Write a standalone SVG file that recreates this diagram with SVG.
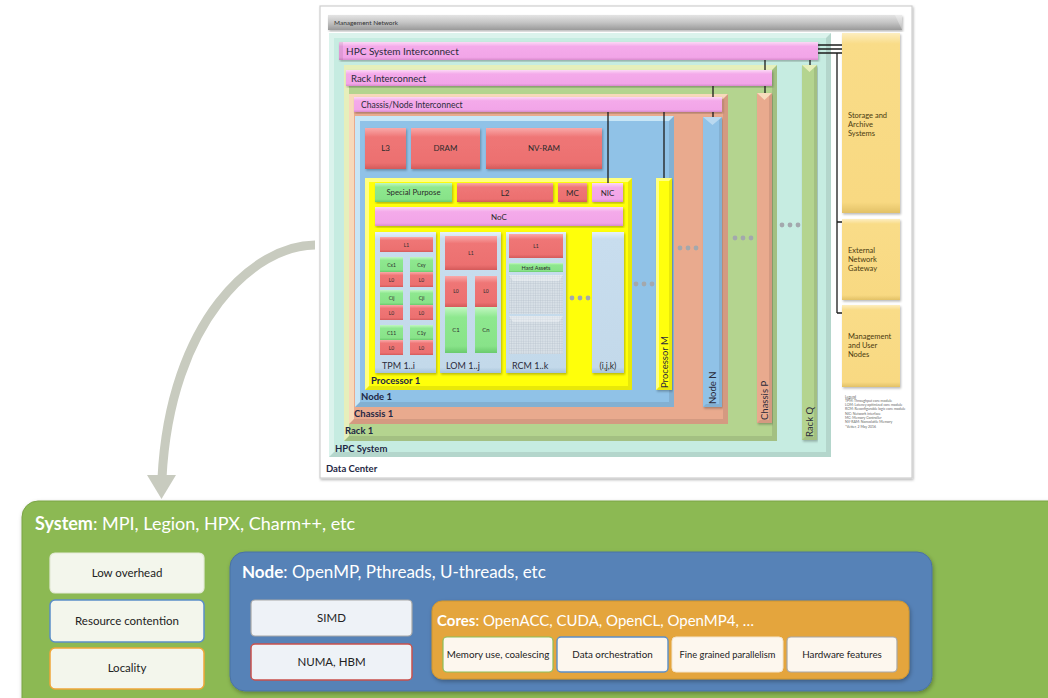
<svg xmlns="http://www.w3.org/2000/svg" width="1048" height="698" viewBox="0 0 1048 698">
<defs>
<linearGradient id="gRed" x1="0" y1="0" x2="0" y2="1"><stop offset="0" stop-color="#f9a9a9"/><stop offset="0.22" stop-color="#ef7676"/><stop offset="0.85" stop-color="#ec7070"/><stop offset="1" stop-color="#d45a5a"/></linearGradient>
<linearGradient id="gGreen" x1="0" y1="0" x2="0" y2="1"><stop offset="0" stop-color="#c2f7c2"/><stop offset="0.22" stop-color="#8ee88f"/><stop offset="0.85" stop-color="#88e389"/><stop offset="1" stop-color="#6acb6d"/></linearGradient>
<linearGradient id="gPink" x1="0" y1="0" x2="0" y2="1"><stop offset="0" stop-color="#fcd8f6"/><stop offset="0.25" stop-color="#f4aaea"/><stop offset="0.85" stop-color="#f2a5e8"/><stop offset="1" stop-color="#d88bcd"/></linearGradient>
<linearGradient id="gGold" x1="0" y1="0" x2="0" y2="1"><stop offset="0" stop-color="#fdeec0"/><stop offset="0.06" stop-color="#f9dc88"/><stop offset="0.94" stop-color="#f8d982"/><stop offset="1" stop-color="#e2c166"/></linearGradient>
<linearGradient id="gCard" x1="0" y1="0" x2="0" y2="1"><stop offset="0" stop-color="#e6f1f9"/><stop offset="0.05" stop-color="#c8ddee"/><stop offset="0.96" stop-color="#c3d9ea"/><stop offset="1" stop-color="#a7c3d9"/></linearGradient>
<linearGradient id="gGray" x1="0" y1="0" x2="0" y2="1"><stop offset="0" stop-color="#e4e4e4"/><stop offset="0.5" stop-color="#c4c4c4"/><stop offset="1" stop-color="#9a9a9a"/></linearGradient>
<filter id="ds" x="-5%" y="-5%" width="110%" height="115%"><feDropShadow dx="1" dy="1.5" stdDeviation="1.3" flood-color="#000" flood-opacity="0.28"/></filter>
<filter id="ds2" x="-5%" y="-5%" width="110%" height="115%"><feDropShadow dx="1" dy="2" stdDeviation="2" flood-color="#000" flood-opacity="0.3"/></filter>
<pattern id="grid" width="2.4" height="2.4" patternUnits="userSpaceOnUse"><rect width="2.4" height="2.4" fill="#d9e1e7"/><path d="M0,0H2.4M0,0V2.4" stroke="#aab7c2" stroke-width="0.5"/></pattern>
</defs>
<style>
text{font-family:Lato,'Liberation Sans',sans-serif}
.hl{fill:#fff;opacity:.38}
.sd{fill:#000;opacity:.09}
.red{fill:url(#gRed)}
.grn{fill:url(#gGreen)}
.pnk{fill:url(#gPink)}
.gold{fill:url(#gGold)}
.card{fill:url(#gCard)}
.t{fill:#2b2b2b;text-anchor:middle}
.s5{font-size:5px}
.s8{font-size:8px}
.lb{fill:#1e2744;font-weight:bold;font-size:9.5px}
.ml{fill:#2b2b3a;font-size:9px}
.side{fill:#4a3a10;font-size:7.5px}
.leg{fill:#666;font-size:3.5px}
.dot{fill:#a3a8ad}
.wire{stroke:#1c1c1c;stroke-width:1.3;fill:none}
.bt{fill:#fff;font-size:18px}
.bt tspan.b{font-weight:bold}
.box{font-size:11.5px;fill:#222;text-anchor:middle}
.cbox{font-size:9.8px;fill:#222;text-anchor:middle}
</style>

<!-- Data center frame -->
<g id="data-center">
<rect x="320" y="6" width="592" height="472" fill="#fff" stroke="#cfcfcf" stroke-width="1.2" filter="url(#ds)"/>
<text x="326" y="472" class="lb">Data Center</text>
</g>

<g id="management-network">
<rect x="328" y="15" width="574" height="15" fill="url(#gGray)" filter="url(#ds)"/>
<path d="M895,15 L902,15 L902,30 Z" fill="#fff" opacity=".3"/>
<text x="334" y="25" fill="#333" font-size="6.5px">Management Network</text>
</g>

<g id="hpc-system">
<rect x="329" y="33" width="502" height="424" fill="#c6ece1"/>
<path class="hl" d="M329,33 H831 L826,38 H334 V452 L329,457 Z"/>
<path class="sd" d="M831,33 V457 H329 L334,452 H826 V38 Z"/>
<text x="335" y="452" class="lb">HPC System</text>
</g>

<g id="hpc-interconnect">
<rect x="339" y="42" width="479" height="18" class="pnk" filter="url(#ds)"/>
<path d="M339,42 h4 v18 h-4 Z" fill="#000" opacity=".08"/>
<text x="346" y="54.5" fill="#2b2b3a" font-size="10px">HPC System Interconnect</text>
</g>

<g id="rack-1">
<rect x="344" y="65" width="433" height="376" fill="#b4d48f"/>
<path d="M344,65 H777 L772,70 H349 V436 L344,441 Z" fill="#f2f5c6" opacity=".8"/>
<path class="sd" d="M777,65 V441 H344 L349,436 H772 V70 Z"/>
<text x="345" y="434" class="lb">Rack 1</text>
</g>

<g id="rack-interconnect">
<rect x="346" y="70" width="426" height="16" class="pnk" filter="url(#ds)"/>
<text x="351" y="81.5" fill="#2b2b3a" font-size="9.5px">Rack Interconnect</text>
</g>

<g id="chassis-1">
<rect x="349" y="94" width="379" height="330" fill="#e9aa8e"/>
<path d="M349,94 H728 L723,99 H354 V419 L349,424 Z" fill="#fbe8c8" opacity=".75"/>
<path class="sd" d="M728,94 V424 H349 L354,419 H723 V99 Z"/>
<text x="354" y="417" class="lb">Chassis 1</text>
</g>

<g id="chassis-node-interconnect">
<rect x="354" y="97" width="368" height="15" class="pnk" filter="url(#ds)"/>
<text x="361" y="108" fill="#2b2b3a" font-size="8.5px">Chassis/Node Interconnect</text>
</g>

<g id="node-1">
<rect x="355" y="116" width="319" height="291" fill="#90c2e7"/>
<path d="M355,116 H674 L669,121 H360 V402 L355,407 Z" fill="#d6effa" opacity=".8"/>
<path class="sd" d="M674,116 V407 H355 L360,402 H669 V121 Z"/>
<text x="361" y="400" class="lb">Node 1</text>
</g>

<g id="l3"><rect x="365" y="128" width="41" height="41" class="red" filter="url(#ds)"/><text x="385.5" y="151" class="t s8">L3</text></g>
<g id="dram"><rect x="411" y="128" width="69" height="41" class="red" filter="url(#ds)"/><text x="445.5" y="151" class="t s8">DRAM</text></g>
<g id="nv-ram"><rect x="486" y="128" width="116" height="41" class="red" filter="url(#ds)"/><text x="544" y="151" class="t s8">NV-RAM</text></g>

<g id="processor-1">
<rect x="365" y="178" width="267" height="212" fill="#ffff0a"/>
<path d="M365,178 H632 L628,182 H369 V386 L365,390 Z" fill="#ffffb0" opacity=".7"/>
<path class="sd" d="M632,178 V390 H365 L369,386 H628 V182 Z"/>
<text x="371" y="384" class="lb">Processor 1</text>
</g>

<g id="special-purpose"><rect x="375" y="183" width="77" height="19" class="grn" filter="url(#ds)"/><text x="413.5" y="195" class="t" font-size="7.8px">Special Purpose</text></g>
<g id="l2"><rect x="457" y="183" width="96" height="19" class="red" filter="url(#ds)"/><text x="505" y="195.5" class="t s8">L2</text></g>
<g id="mc"><rect x="558" y="183" width="29" height="19" class="red" filter="url(#ds)"/><text x="572.5" y="195.5" class="t s8">MC</text></g>
<g id="nic"><rect x="592" y="183" width="31" height="19" class="pnk" filter="url(#ds)"/><text x="607.5" y="195.5" class="t s8">NIC</text></g>
<g id="noc"><rect x="375" y="207" width="248" height="19" class="pnk" filter="url(#ds)"/><text x="499" y="219.5" class="t s8">NoC</text></g>

<g id="tpm">
<rect x="375" y="232" width="61" height="141" class="card" filter="url(#ds)"/>
<rect x="380" y="237" width="53" height="15" class="red"/><text x="406.5" y="246.5" class="t s5">L1</text>
<rect x="380" y="257" width="23" height="15" class="grn"/><text x="391.5" y="266.5" class="t s5">Cx1</text>
<rect x="380" y="272" width="23" height="15" class="red"/><text x="391.5" y="281.5" class="t s5">L0</text>
<rect x="410" y="257" width="23" height="15" class="grn"/><text x="421.5" y="266.5" class="t s5">Cxy</text>
<rect x="410" y="272" width="23" height="15" class="red"/><text x="421.5" y="281.5" class="t s5">L0</text>
<rect x="380" y="290" width="23" height="15" class="grn"/><text x="391.5" y="299.5" class="t s5">Cij</text>
<rect x="380" y="305" width="23" height="15" class="red"/><text x="391.5" y="314.5" class="t s5">L0</text>
<rect x="410" y="290" width="23" height="15" class="grn"/><text x="421.5" y="299.5" class="t s5">Cji</text>
<rect x="410" y="305" width="23" height="15" class="red"/><text x="421.5" y="314.5" class="t s5">L0</text>
<rect x="380" y="325" width="23" height="15" class="grn"/><text x="391.5" y="334.5" class="t s5">C11</text>
<rect x="380" y="340" width="23" height="15" class="red"/><text x="391.5" y="349.5" class="t s5">L0</text>
<rect x="410" y="325" width="23" height="15" class="grn"/><text x="421.5" y="334.5" class="t s5">C1y</text>
<rect x="410" y="340" width="23" height="15" class="red"/><text x="421.5" y="349.5" class="t s5">L0</text>
<text x="382" y="369" class="ml">TPM 1..i</text>
</g>

<g id="lom">
<rect x="440" y="232" width="61" height="141" class="card" filter="url(#ds)"/>
<rect x="445" y="236" width="52" height="34" class="red"/><text x="471" y="255" class="t s5">L1</text>
<rect x="445" y="276" width="22" height="31" class="red"/><text x="456" y="293" class="t s5">L0</text>
<rect x="445" y="307" width="22" height="46" class="grn"/><text x="456" y="332" class="t" font-size="6px">C1</text>
<rect x="475" y="276" width="22" height="31" class="red"/><text x="486" y="293" class="t s5">L0</text>
<rect x="475" y="307" width="22" height="46" class="grn"/><text x="486" y="332" class="t" font-size="6px">Cn</text>
<text x="446" y="369" class="ml">LOM 1..j</text>
</g>

<g id="rcm">
<rect x="506" y="232" width="60" height="141" class="card" filter="url(#ds)"/>
<rect x="509" y="234" width="54" height="24" class="red"/><text x="536" y="248" class="t s5">L1</text>
<rect x="509" y="263" width="54" height="9" class="grn"/><text x="536" y="270" class="t" font-size="5.5px">Hard Assets</text>
<rect x="509" y="275" width="54" height="39" fill="url(#grid)"/>
<rect x="509" y="316" width="54" height="38" fill="url(#grid)"/>
<path d="M509,275 H563 L559,281 H513 Z M509,316 H563 L559,322 H513 Z" fill="#fff" opacity=".35"/>
<text x="512" y="369" class="ml">RCM 1..k</text>
</g>

<g id="ijk">
<rect x="592" y="232" width="32" height="141" class="card" filter="url(#ds)"/>
<text x="608" y="369" class="t" font-size="8.5px">(i,j,k)</text>
</g>

<g id="processor-m">
<rect x="656" y="178" width="16" height="212" fill="#ffff0a" filter="url(#ds)"/>
<path d="M656,178 H672 L669,181 H659 V387 L656,390 Z" fill="#ffffb0" opacity=".7"/>
<path class="sd" d="M672,178 V390 H656 L659,387 H669 V181 Z"/>
<text transform="translate(667.5,388) rotate(-90)" fill="#2b2b3a" font-size="9.5px">Processor M</text>
</g>

<g id="node-n">
<rect x="703" y="117" width="19" height="290" fill="#90c2e7" filter="url(#ds)"/>
<path class="hl" d="M703,117 H722 L712.5,125 Z"/>
<path class="sd" d="M722,117 V407 H703 L706,404 H719 V120 Z"/>
<text transform="translate(716,404) rotate(-90)" fill="#2b2b3a" font-size="9.5px">Node N</text>
</g>

<g id="chassis-p">
<rect x="757" y="93" width="15" height="330" fill="#e9aa8e" filter="url(#ds)"/>
<path d="M757,93 H772 L764.5,100 Z" fill="#fbe8c8" opacity=".8"/>
<path class="sd" d="M772,93 V423 H757 L760,420 H769 V96 Z"/>
<text transform="translate(768,420) rotate(-90)" fill="#2b2b3a" font-size="9.5px">Chassis P</text>
</g>

<g id="rack-q">
<rect x="802" y="65" width="15" height="375" fill="#b4d48f" filter="url(#ds)"/>
<path d="M802,65 H817 L809.5,72 Z" fill="#f2f5c6" opacity=".8"/>
<path class="sd" d="M817,65 V440 H802 L805,437 H814 V68 Z"/>
<text transform="translate(813,437) rotate(-90)" fill="#2b2b3a" font-size="9.5px">Rack Q</text>
</g>

<g id="ellipses">
<circle cx="572" cy="298" r="2.4" class="dot"/><circle cx="580" cy="298" r="2.4" class="dot"/><circle cx="588" cy="298" r="2.4" class="dot"/>
<circle cx="636" cy="284" r="2.4" class="dot"/><circle cx="644" cy="284" r="2.4" class="dot"/><circle cx="652" cy="284" r="2.4" class="dot"/>
<circle cx="680" cy="248" r="2.4" class="dot"/><circle cx="688" cy="248" r="2.4" class="dot"/><circle cx="696" cy="248" r="2.4" class="dot"/>
<circle cx="735" cy="238" r="2.4" class="dot"/><circle cx="743" cy="238" r="2.4" class="dot"/><circle cx="751" cy="238" r="2.4" class="dot"/>
<circle cx="782" cy="225" r="2.4" class="dot"/><circle cx="790" cy="225" r="2.4" class="dot"/><circle cx="798" cy="225" r="2.4" class="dot"/>
</g>

<g id="storage">
<rect x="842" y="33" width="58" height="180" class="gold" filter="url(#ds)"/>
<text class="side"><tspan x="848" y="118">Storage and</tspan><tspan x="848" y="127">Archive</tspan><tspan x="848" y="136">Systems</tspan></text>
</g>
<g id="gateway">
<rect x="842" y="219" width="58" height="81" class="gold" filter="url(#ds)"/>
<text class="side"><tspan x="848" y="253">External</tspan><tspan x="848" y="262">Network</tspan><tspan x="848" y="271">Gateway</tspan></text>
</g>
<g id="mgmt-nodes">
<rect x="842" y="305" width="58" height="82" class="gold" filter="url(#ds)"/>
<text class="side"><tspan x="848" y="339">Management</tspan><tspan x="848" y="348">and User</tspan><tspan x="848" y="357">Nodes</tspan></text>
</g>

<g id="legend">
<text class="leg"><tspan x="845" y="397.5" text-decoration="underline">Legend</tspan><tspan x="845" y="401.8">TPM: Throughput  core module</tspan><tspan x="845" y="406.1">LOM: Latency optimized  core module</tspan><tspan x="845" y="410.4">RCM: Reconfigurable  logic core module</tspan><tspan x="845" y="414.7">NIC: Network  interface</tspan><tspan x="845" y="419">MC: Memory Controller</tspan><tspan x="845" y="423.3">NV-RAM: Nonvolatile  Memory</tspan><tspan x="845" y="427.6">*Vetter, 2 May 2016</tspan></text>
</g>

<g id="connectors">
<path class="wire" d="M608,112 V183 M664,112 V178 M713,86 V97 M713,112 V117 M765,60 V70 M765,86 V93 M810,60 V65 M818,45 H842 M818,49 H842 M818,53 H842 M837,53 V313 M837,222 H842 M837,313 H842"/>
<path d="M315,245 C255,245 170,320 162,478" fill="none" stroke="#c8cbbf" stroke-width="9"/>
<path d="M147,475 L176,475 L161.5,499 Z" fill="#c8cbbf"/>
</g>

<g id="system">
<rect x="22" y="501" width="1050" height="215" rx="16" fill="#8cb953" stroke="#7ba446" stroke-width="1" filter="url(#ds2)"/>
<text x="35" y="530" class="bt"><tspan class="b">System</tspan>: MPI, Legion, HPX, Charm++, etc</text>
</g>
<g id="low-overhead"><rect x="50" y="553" width="154" height="40" rx="5" fill="#f3f6ec" stroke="#e3ead6" stroke-width="1.2"/><text x="127" y="577" class="box">Low overhead</text></g>
<g id="resource-contention"><rect x="50" y="600" width="154" height="42" rx="5" fill="#f3f6ec" stroke="#5b8fc8" stroke-width="1.5"/><text x="127" y="625" class="box">Resource contention</text></g>
<g id="locality"><rect x="50" y="648" width="154" height="41" rx="5" fill="#f3f6ec" stroke="#f0a73a" stroke-width="1.5"/><text x="127" y="672" class="box">Locality</text></g>

<g id="node">
<rect x="230" y="552" width="702" height="139" rx="15" fill="#5682b7" stroke="#4a72a4" stroke-width="1" filter="url(#ds2)"/>
<text x="242" y="578" class="bt" style="font-size:17px"><tspan class="b">Node</tspan>: OpenMP, Pthreads, U-threads, etc</text>
</g>
<g id="simd"><rect x="251" y="600" width="161" height="36" rx="4" fill="#eef2f7" stroke="#a7a7a7" stroke-width="1.2"/><text x="331.5" y="622" class="box">SIMD</text></g>
<g id="numa-hbm"><rect x="251" y="644" width="161" height="36" rx="4" fill="#eef2f7" stroke="#c9504c" stroke-width="1.5"/><text x="331.5" y="666" class="box">NUMA, HBM</text></g>

<g id="cores">
<rect x="432" y="601" width="477" height="78" rx="10" fill="#e4a53e" stroke="#d0962f" stroke-width="1" filter="url(#ds2)"/>
<text x="437" y="626" class="bt" style="font-size:15px"><tspan class="b">Cores</tspan>: OpenACC, CUDA, OpenCL, OpenMP4, …</text>
</g>
<g id="memory-use"><rect x="443" y="637" width="110" height="35" rx="4" fill="#fdf7ee" stroke="#8bbf5a" stroke-width="1.2"/><text x="498" y="658" class="cbox">Memory use, coalescing</text></g>
<g id="data-orchestration"><rect x="557" y="637" width="111" height="35" rx="4" fill="#fdf7ee" stroke="#5b8fc8" stroke-width="1.4"/><text x="612.5" y="658" class="cbox">Data orchestration</text></g>
<g id="fine-grained"><rect x="672" y="637" width="111" height="35" rx="4" fill="#fdf7ee" stroke="#f3e4cc" stroke-width="1"/><text x="727.5" y="658" class="cbox" style="font-size:9.3px">Fine grained parallelism</text></g>
<g id="hardware-features"><rect x="787" y="637" width="110" height="35" rx="4" fill="#fdf7ee" stroke="#a7a7a7" stroke-width="1.2"/><text x="842" y="658" class="cbox">Hardware features</text></g>
</svg>
